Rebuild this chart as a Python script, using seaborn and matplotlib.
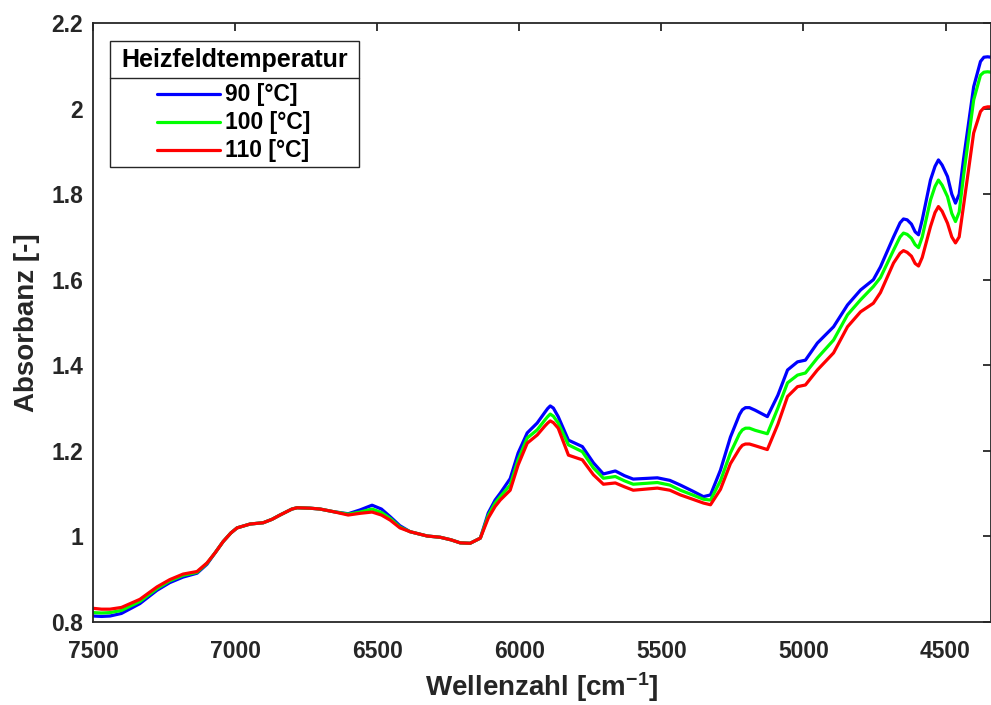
import numpy as np
import pandas as pd
import matplotlib
matplotlib.use("Agg")
import matplotlib.pyplot as plt
import seaborn as sns
from matplotlib.lines import Line2D
from matplotlib.patches import Rectangle
from matplotlib.ticker import FuncFormatter

# ---------------- data ----------------
wavenumber = [7500, 7470, 7440, 7400, 7335, 7275, 7230, 7183, 7134, 7099,
              7070, 7042, 7015, 6993, 6947, 6901, 6870, 6842, 6800, 6782,
              6736, 6701, 6655, 6602, 6560, 6518, 6485, 6454, 6420, 6384,
              6324, 6278, 6240, 6208, 6173, 6137, 6109, 6085, 6067, 6032,
              6004, 5972, 5937, 5910, 5900, 5891, 5880, 5863, 5827, 5778,
              5739, 5704, 5662, 5630, 5599, 5514, 5470, 5433, 5390, 5352,
              5327, 5292, 5257, 5225, 5215, 5204, 5190, 5170, 5127, 5090,
              5056, 5021, 4993, 4951, 4894, 4845, 4799, 4754, 4729, 4683,
              4660, 4648, 4635, 4620, 4607, 4595, 4582, 4553, 4537, 4525,
              4512, 4493, 4478, 4465, 4452, 4437, 4401, 4377, 4365, 4352,
              4340]

abs_90 = [0.814, 0.813, 0.814, 0.820, 0.843, 0.874, 0.892, 0.905, 0.914, 0.935,
          0.962, 0.988, 1.008, 1.020, 1.029, 1.032, 1.040, 1.050, 1.064, 1.067,
          1.066, 1.064, 1.058, 1.053, 1.062, 1.073, 1.064, 1.046, 1.025, 1.011,
          1.001, 0.998, 0.992, 0.985, 0.984, 0.996, 1.055, 1.085, 1.101, 1.135,
          1.195, 1.242, 1.265, 1.290, 1.299, 1.305, 1.300, 1.280, 1.225, 1.210,
          1.172, 1.146, 1.153, 1.142, 1.134, 1.137, 1.131, 1.120, 1.106, 1.093,
          1.097, 1.155, 1.232, 1.285, 1.296, 1.301, 1.301, 1.295, 1.280, 1.330,
          1.389, 1.408, 1.412, 1.452, 1.490, 1.541, 1.576, 1.600, 1.630, 1.700,
          1.733, 1.742, 1.740, 1.730, 1.712, 1.705, 1.740, 1.833, 1.865, 1.880,
          1.868, 1.841, 1.800, 1.779, 1.800, 1.880, 2.051, 2.110, 2.120, 2.121,
          2.120]

abs_100 = [0.822, 0.821, 0.822, 0.827, 0.848, 0.878, 0.896, 0.909, 0.916, 0.937,
           0.962, 0.988, 1.008, 1.020, 1.029, 1.032, 1.040, 1.050, 1.064, 1.067,
           1.066, 1.064, 1.058, 1.052, 1.057, 1.064, 1.056, 1.042, 1.022, 1.011,
           1.001, 0.998, 0.992, 0.985, 0.984, 0.996, 1.049, 1.078, 1.093, 1.120,
           1.179, 1.230, 1.249, 1.272, 1.280, 1.286, 1.281, 1.265, 1.214, 1.198,
           1.160, 1.136, 1.140, 1.130, 1.122, 1.126, 1.120, 1.108, 1.097, 1.087,
           1.085, 1.130, 1.195, 1.240, 1.249, 1.253, 1.253, 1.248, 1.240, 1.300,
           1.359, 1.377, 1.382, 1.417, 1.459, 1.518, 1.553, 1.584, 1.605, 1.669,
           1.700, 1.709, 1.706, 1.697, 1.682, 1.675, 1.700, 1.786, 1.818, 1.833,
           1.821, 1.794, 1.755, 1.736, 1.758, 1.841, 2.020, 2.078, 2.085, 2.086,
           2.085]

abs_110 = [0.832, 0.830, 0.830, 0.834, 0.853, 0.882, 0.899, 0.912, 0.918, 0.938,
           0.962, 0.988, 1.008, 1.020, 1.029, 1.032, 1.040, 1.050, 1.064, 1.067,
           1.066, 1.064, 1.058, 1.050, 1.054, 1.057, 1.050, 1.038, 1.020, 1.011,
           1.001, 0.998, 0.992, 0.985, 0.984, 0.996, 1.043, 1.070, 1.085, 1.108,
           1.167, 1.218, 1.237, 1.258, 1.265, 1.270, 1.266, 1.253, 1.190, 1.179,
           1.144, 1.122, 1.125, 1.116, 1.108, 1.113, 1.108, 1.097, 1.087, 1.078,
           1.074, 1.110, 1.170, 1.205, 1.213, 1.216, 1.216, 1.212, 1.203, 1.262,
           1.327, 1.350, 1.354, 1.389, 1.429, 1.490, 1.525, 1.545, 1.570, 1.639,
           1.662, 1.668, 1.664, 1.655, 1.638, 1.632, 1.652, 1.724, 1.757, 1.771,
           1.760, 1.732, 1.700, 1.686, 1.700, 1.771, 1.943, 1.993, 2.002, 2.004,
           2.004]

series_labels = ["90 [°C]", "100 [°C]", "110 [°C]"]
series_colors = ["#0000FF", "#00FF00", "#FF0000"]
legend_title = "Heizfeldtemperatur"
x_ticks = [7500, 7000, 6500, 6000, 5500, 5000, 4500]
y_ticks = [0.8, 1.0, 1.2, 1.4, 1.6, 1.8, 2.0, 2.2]

df = pd.concat([
    pd.DataFrame({"Wellenzahl": wavenumber, "Absorbanz": vals, "T": lab})
    for vals, lab in zip([abs_90, abs_100, abs_110], series_labels)
], ignore_index=True)

# ---------------- style ----------------
sns.set_theme(style="white")
plt.rcParams["font.family"] = ["Liberation Sans", "DejaVu Sans"]
plt.rcParams["font.weight"] = "bold"
plt.rcParams["mathtext.fontset"] = "custom"
plt.rcParams["mathtext.rm"] = "Liberation Sans:bold"
plt.rcParams["mathtext.it"] = "Liberation Sans:bold"
plt.rcParams["mathtext.bf"] = "Liberation Sans:bold"
plt.rcParams["mathtext.default"] = "rm"
plt.rcParams["lines.solid_capstyle"] = "round"
plt.rcParams["lines.solid_joinstyle"] = "round"

W, H = 991, 705
fig = plt.figure(figsize=(W / 100, H / 100), dpi=100)
ax = fig.add_axes([93 / W, (H - 622) / H, (991 - 93) / W, (622 - 23) / H])

sns.lineplot(data=df, x="Wellenzahl", y="Absorbanz", hue="T",
             palette=dict(zip(series_labels, series_colors)),
             linewidth=2.3, legend=False, ax=ax)

ax.set_xlim(7500, 4340)
ax.set_ylim(0.8, 2.2)
ax.set_xticks(x_ticks)
ax.set_yticks(y_ticks)
ax.yaxis.set_major_formatter(FuncFormatter(lambda v, p: f"{v:g}"))
ax.xaxis.set_major_formatter(FuncFormatter(lambda v, p: f"{v:g}"))

dark = "#262626"
for s in ax.spines.values():
    s.set_color(dark)
    s.set_linewidth(1.3)
ax.tick_params(direction="in", length=6, width=1.3, colors=dark,
               labelsize=16.5, top=True, right=True)
ax.tick_params(axis="x", pad=13)
ax.tick_params(axis="y", pad=7)
for lab in ax.get_xticklabels() + ax.get_yticklabels():
    lab.set_fontweight("bold")

ax.set_xlabel("Wellenzahl [cm$^{-1}$]", fontsize=20, fontweight="bold",
              color=dark, labelpad=5)
ax.set_ylabel("Absorbanz [-]", fontsize=20, fontweight="bold",
              color=dark, labelpad=8)

# ---------------- legend (MATLAB-style box with title separator) ----------------
def fx(px):
    return px / W

def fy(py):
    return (H - py) / H

box_l, box_r, box_t, box_b, sep = 110, 359, 41, 167, 78
fig.add_artist(Rectangle((fx(box_l), fy(box_b)), fx(box_r) - fx(box_l),
                         fy(box_t) - fy(box_b), transform=fig.transFigure,
                         facecolor="white", edgecolor=dark, linewidth=1.0,
                         zorder=10))
fig.add_artist(Line2D([fx(box_l), fx(box_r)], [fy(sep), fy(sep)],
                      transform=fig.transFigure, color=dark, linewidth=1.0,
                      zorder=11))
fig.text(fx((box_l + box_r) / 2), fy(60), legend_title, ha="center",
         va="center", fontsize=18, fontweight="bold", color="black", zorder=12)
for i, (lab, col) in enumerate(zip(series_labels, series_colors)):
    yy = [94, 122, 150][i]
    fig.add_artist(Line2D([fx(157), fx(220)], [fy(yy), fy(yy)],
                          transform=fig.transFigure, color=col,
                          linewidth=2.3, zorder=12))
    fig.text(fx(225), fy(yy), lab, ha="left", va="center", fontsize=16.5,
             fontweight="bold", color="black", zorder=12)

fig.savefig("out.png", dpi=100)
